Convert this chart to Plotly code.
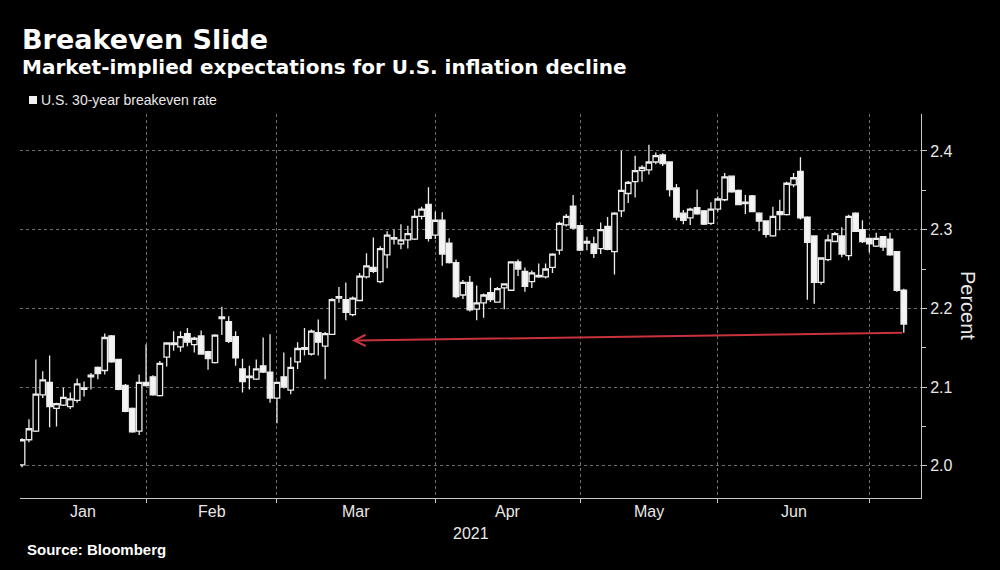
import plotly.graph_objects as go
import pandas as pd

# ---------------- data ----------------
title_text = "Breakeven Slide"
subtitle_text = "Market-implied expectations for U.S. inflation decline"
series_name = "U.S. 30-year breakeven rate"
source_text = "Source: Bloomberg"
year_label = "2021"
y_title = "Percent"
month_names = ["Jan", "Feb", "Mar", "Apr", "May", "Jun"]

holidays = ["2021-01-18", "2021-02-15", "2021-04-02", "2021-05-31", "2021-07-05"]
dates = [d.strftime("%Y-%m-%d") for d in pd.bdate_range("2021-01-05", "2021-07-09")
         if d.strftime("%Y-%m-%d") not in holidays]

opens = [2.001, 2.033, 2.044, 2.090, 2.106, 2.073, 2.077, 2.075, 2.083, 2.099,
         2.113, 2.125, 2.121, 2.165, 2.135, 2.102, 2.073, 2.044,
         2.106, 2.113, 2.089, 2.138, 2.154, 2.151, 2.168, 2.154, 2.165, 2.145,
         2.131, 2.189, 2.183, 2.164, 2.123, 2.112, 2.110, 2.127, 2.119,
         2.086, 2.113, 2.096, 2.132, 2.148, 2.142, 2.169, 2.152, 2.167, 2.213,
         2.211, 2.192, 2.210, 2.240, 2.252, 2.234, 2.268, 2.288, 2.282, 2.287,
         2.288, 2.317, 2.332,
         2.293, 2.312, 2.283, 2.258, 2.217, 2.233, 2.199, 2.207, 2.220, 2.208,
         2.226, 2.223, 2.259, 2.247, 2.234, 2.242, 2.240, 2.252, 2.274, 2.306,
         2.330,
         2.305, 2.285, 2.282, 2.276, 2.304, 2.272, 2.324, 2.346, 2.361, 2.375,
         2.376, 2.386, 2.395, 2.386, 2.353, 2.321, 2.315, 2.328, 2.324, 2.308,
         2.326, 2.338, 2.368, 2.350, 2.335, 2.343, 2.321, 2.311, 2.292, 2.323,
         2.319, 2.357, 2.374, 2.316, 2.292, 2.233, 2.262, 2.285, 2.292, 2.267,
         2.321, 2.300,
         2.289, 2.279, 2.291, 2.288, 2.272, 2.223]
highs = [2.035, 2.059, 2.135, 2.120, 2.140, 2.080, 2.099, 2.093, 2.111, 2.107,
         2.118, 2.126, 2.168, 2.166, 2.136, 2.104, 2.074, 2.116,
         2.154, 2.115, 2.133, 2.157, 2.171, 2.171, 2.175, 2.164, 2.172, 2.146,
         2.167, 2.202, 2.190, 2.171, 2.136, 2.127, 2.135, 2.163, 2.167,
         2.107, 2.144, 2.138, 2.157, 2.175, 2.173, 2.186, 2.170, 2.213, 2.227,
         2.233, 2.215, 2.245, 2.270, 2.290, 2.279, 2.298, 2.300, 2.307, 2.305,
         2.325, 2.329, 2.354,
         2.323, 2.322, 2.289, 2.262, 2.236, 2.241, 2.229, 2.219, 2.239, 2.227,
         2.232, 2.260, 2.262, 2.252, 2.248, 2.257, 2.257, 2.270, 2.310, 2.320,
         2.344,
         2.306, 2.291, 2.291, 2.309, 2.316, 2.322, 2.400, 2.362, 2.394, 2.382,
         2.408, 2.398, 2.397, 2.387, 2.358, 2.325, 2.328, 2.351, 2.325, 2.335,
         2.342, 2.372, 2.369, 2.351, 2.344, 2.344, 2.322, 2.312, 2.329, 2.338,
         2.361, 2.372, 2.392, 2.317, 2.293, 2.265, 2.294, 2.297, 2.303, 2.319,
         2.322, 2.312,
         2.290, 2.296, 2.292, 2.296, 2.273, 2.225]
lows = [1.998, 2.030, 2.043, 2.086, 2.049, 2.050, 2.076, 2.072, 2.080, 2.088,
        2.097, 2.110, 2.116, 2.131, 2.096, 2.068, 2.042, 2.039,
        2.101, 2.089, 2.088, 2.126, 2.146, 2.145, 2.152, 2.144, 2.141, 2.122,
        2.130, 2.166, 2.156, 2.127, 2.093, 2.097, 2.109, 2.118, 2.080,
        2.054, 2.098, 2.091, 2.123, 2.140, 2.140, 2.140, 2.110, 2.166, 2.207,
        2.185, 2.190, 2.209, 2.238, 2.245, 2.232, 2.251, 2.281, 2.275, 2.276,
        2.287, 2.313, 2.285,
        2.288, 2.254, 2.257, 2.213, 2.212, 2.196, 2.185, 2.188, 2.208, 2.207,
        2.199, 2.222, 2.241, 2.221, 2.226, 2.239, 2.238, 2.245, 2.268, 2.304,
        2.301,
        2.273, 2.274, 2.264, 2.269, 2.274, 2.243, 2.316, 2.334, 2.341, 2.361,
        2.370, 2.383, 2.381, 2.342, 2.312, 2.307, 2.306, 2.319, 2.306, 2.306,
        2.323, 2.336, 2.347, 2.331, 2.320, 2.322, 2.298, 2.290, 2.291, 2.299,
        2.318, 2.354, 2.313, 2.211, 2.206, 2.230, 2.260, 2.284, 2.265, 2.261,
        2.297, 2.283,
        2.271, 2.278, 2.273, 2.267, 2.221, 2.169]
closes = [2.033, 2.047, 2.091, 2.109, 2.075, 2.079, 2.087, 2.085, 2.104, 2.097,
          2.115, 2.117, 2.163, 2.132, 2.097, 2.069, 2.043, 2.106,
          2.102, 2.090, 2.130, 2.156, 2.156, 2.164, 2.157, 2.162, 2.142, 2.136,
          2.166, 2.187, 2.158, 2.137, 2.107, 2.114, 2.123, 2.119, 2.086,
          2.106, 2.100, 2.125, 2.149, 2.150, 2.171, 2.157, 2.168, 2.211, 2.215,
          2.195, 2.213, 2.241, 2.254, 2.247, 2.276, 2.293, 2.290, 2.287, 2.295,
          2.317, 2.326, 2.289,
          2.312, 2.269, 2.258, 2.215, 2.233, 2.198, 2.207, 2.217, 2.211, 2.225,
          2.231, 2.259, 2.250, 2.228, 2.245, 2.240, 2.250, 2.269, 2.308, 2.317,
          2.302,
          2.274, 2.283, 2.270, 2.300, 2.275, 2.321, 2.350, 2.360, 2.375, 2.379,
          2.386, 2.394, 2.384, 2.351, 2.316, 2.312, 2.326, 2.320, 2.307, 2.326,
          2.339, 2.367, 2.348, 2.332, 2.333, 2.323, 2.311, 2.294, 2.317, 2.319,
          2.359, 2.366, 2.315, 2.284, 2.233, 2.264, 2.287, 2.295, 2.269, 2.317,
          2.298, 2.285,
          2.282, 2.289, 2.278, 2.268, 2.223, 2.180]

y_tick_values = [2.0, 2.1, 2.2, 2.3, 2.4]
arrow_target_index = 47.9   # position (in trading days) the arrow points back to
arrow_target_level = 2.159

# ---------------- layout helpers ----------------
W, H = 1000, 570
PL, PR, PT, PB = 20, 921, 114, 498   # plot area in pixels


def px_x(x):
    return (x - PL) / (PR - PL)


def px_y(y):
    return (PB - y) / (PB - PT)


# first trading day of each month (after the first one)
month_starts = [i for i in range(1, len(dates)) if dates[i][5:7] != dates[i - 1][5:7]]
x_min, x_max = -0.3, len(dates) + 1.5
bounds = [x_min] + month_starts
label_pos = [(bounds[i] + bounds[i + 1]) / 2 for i in range(len(month_names))]

text_col = "#e8e8e8"
grid_col = "#6e6e6e"
axis_col = "#c8c8c8"

fig = go.Figure()
fig.add_trace(go.Candlestick(
    x=dates, open=opens, high=highs, low=lows, close=closes,
    name=series_name, showlegend=False,
    increasing=dict(line=dict(color="#ececec", width=1.3), fillcolor="#000000"),
    decreasing=dict(line=dict(color="#ececec", width=1.3), fillcolor="#f4f4f4"),
    whiskerwidth=0,
))

annotations = [
    dict(text="<b>" + title_text + "</b>", xref="paper", yref="paper",
         x=px_x(20), y=px_y(39), xanchor="left", yanchor="middle", showarrow=False,
         font=dict(family="DejaVu Sans", size=27, color="#ffffff")),
    dict(text="<b>" + subtitle_text + "</b>", xref="paper", yref="paper",
         x=px_x(20), y=px_y(67), xanchor="left", yanchor="middle", showarrow=False,
         font=dict(family="DejaVu Sans", size=20, color="#ffffff")),
    dict(text=series_name, xref="paper", yref="paper",
         x=px_x(39), y=px_y(100), xanchor="left", yanchor="middle", showarrow=False,
         font=dict(family="Liberation Sans", size=14, color=text_col)),
    dict(text="<b>" + source_text + "</b>", xref="paper", yref="paper",
         x=px_x(25), y=px_y(549), xanchor="left", yanchor="middle", showarrow=False,
         font=dict(family="Liberation Sans", size=15, color="#ffffff")),
    dict(text=year_label, xref="paper", yref="paper",
         x=0.5, y=px_y(533), xanchor="center", yanchor="middle", showarrow=False,
         font=dict(family="Liberation Sans", size=16, color=text_col)),
    dict(text=y_title, xref="paper", yref="paper", textangle=90,
         x=px_x(968), y=px_y(306), xanchor="center", yanchor="middle", showarrow=False,
         font=dict(family="Liberation Sans", size=20, color=text_col)),
    dict(text="", xref="x", yref="y", axref="x", ayref="y",
         x=arrow_target_index, y=arrow_target_level,
         ax=len(dates) - 1, ay=lows[-1],
         showarrow=True, arrowhead=5, arrowsize=1.1, arrowwidth=2,
         arrowcolor="#c8323c", standoff=0, startstandoff=0),
]
for name, pos in zip(month_names, label_pos):
    annotations.append(dict(text=name, xref="x", yref="paper", x=pos, y=px_y(511),
                            xanchor="center", yanchor="middle", showarrow=False,
                            font=dict(family="Liberation Sans", size=16, color=text_col)))

fig.update_layout(
    width=W, height=H,
    margin=dict(l=PL, r=W - PR, t=PT, b=H - PB, pad=0),
    paper_bgcolor="#000000", plot_bgcolor="#000000",
    boxgap=0.2, boxgroupgap=0,
    annotations=annotations,
    shapes=[dict(type="rect", xref="paper", yref="paper",
                 x0=px_x(29), x1=px_x(37), y0=px_y(104), y1=px_y(96),
                 fillcolor="#f0f0f0", line=dict(width=0))],
    xaxis=dict(
        type="category", range=[x_min, x_max],
        rangeslider=dict(visible=False),
        tickmode="array", tickvals=[dates[i] for i in month_starts],
        showticklabels=False, ticks="outside", ticklen=4, tickcolor=axis_col,
        showgrid=True, gridcolor=grid_col, griddash="dot", gridwidth=1,
        showline=True, linecolor=axis_col, linewidth=1, zeroline=False,
    ),
    yaxis=dict(
        side="right", range=[1.959, 2.447],
        tickmode="array", tickvals=y_tick_values, tickformat=".1f",
        ticks="outside", ticklen=5, tickcolor=axis_col,
        tickfont=dict(family="Liberation Sans", size=16, color=text_col),
        showgrid=True, gridcolor=grid_col, griddash="dot", gridwidth=1,
        showline=True, linecolor=axis_col, linewidth=1, zeroline=False,
        minor=dict(dtick=0.05, ticks="outside", ticklen=4, tickcolor=axis_col, showgrid=False),
    ),
    hovermode=False,
)

fig.write_html(
    "out.html",
    config={"displayModeBar": False},
    post_script="document.body.style.margin='0';document.body.style.background='#000';"
                "document.documentElement.style.background='#000';",
)
